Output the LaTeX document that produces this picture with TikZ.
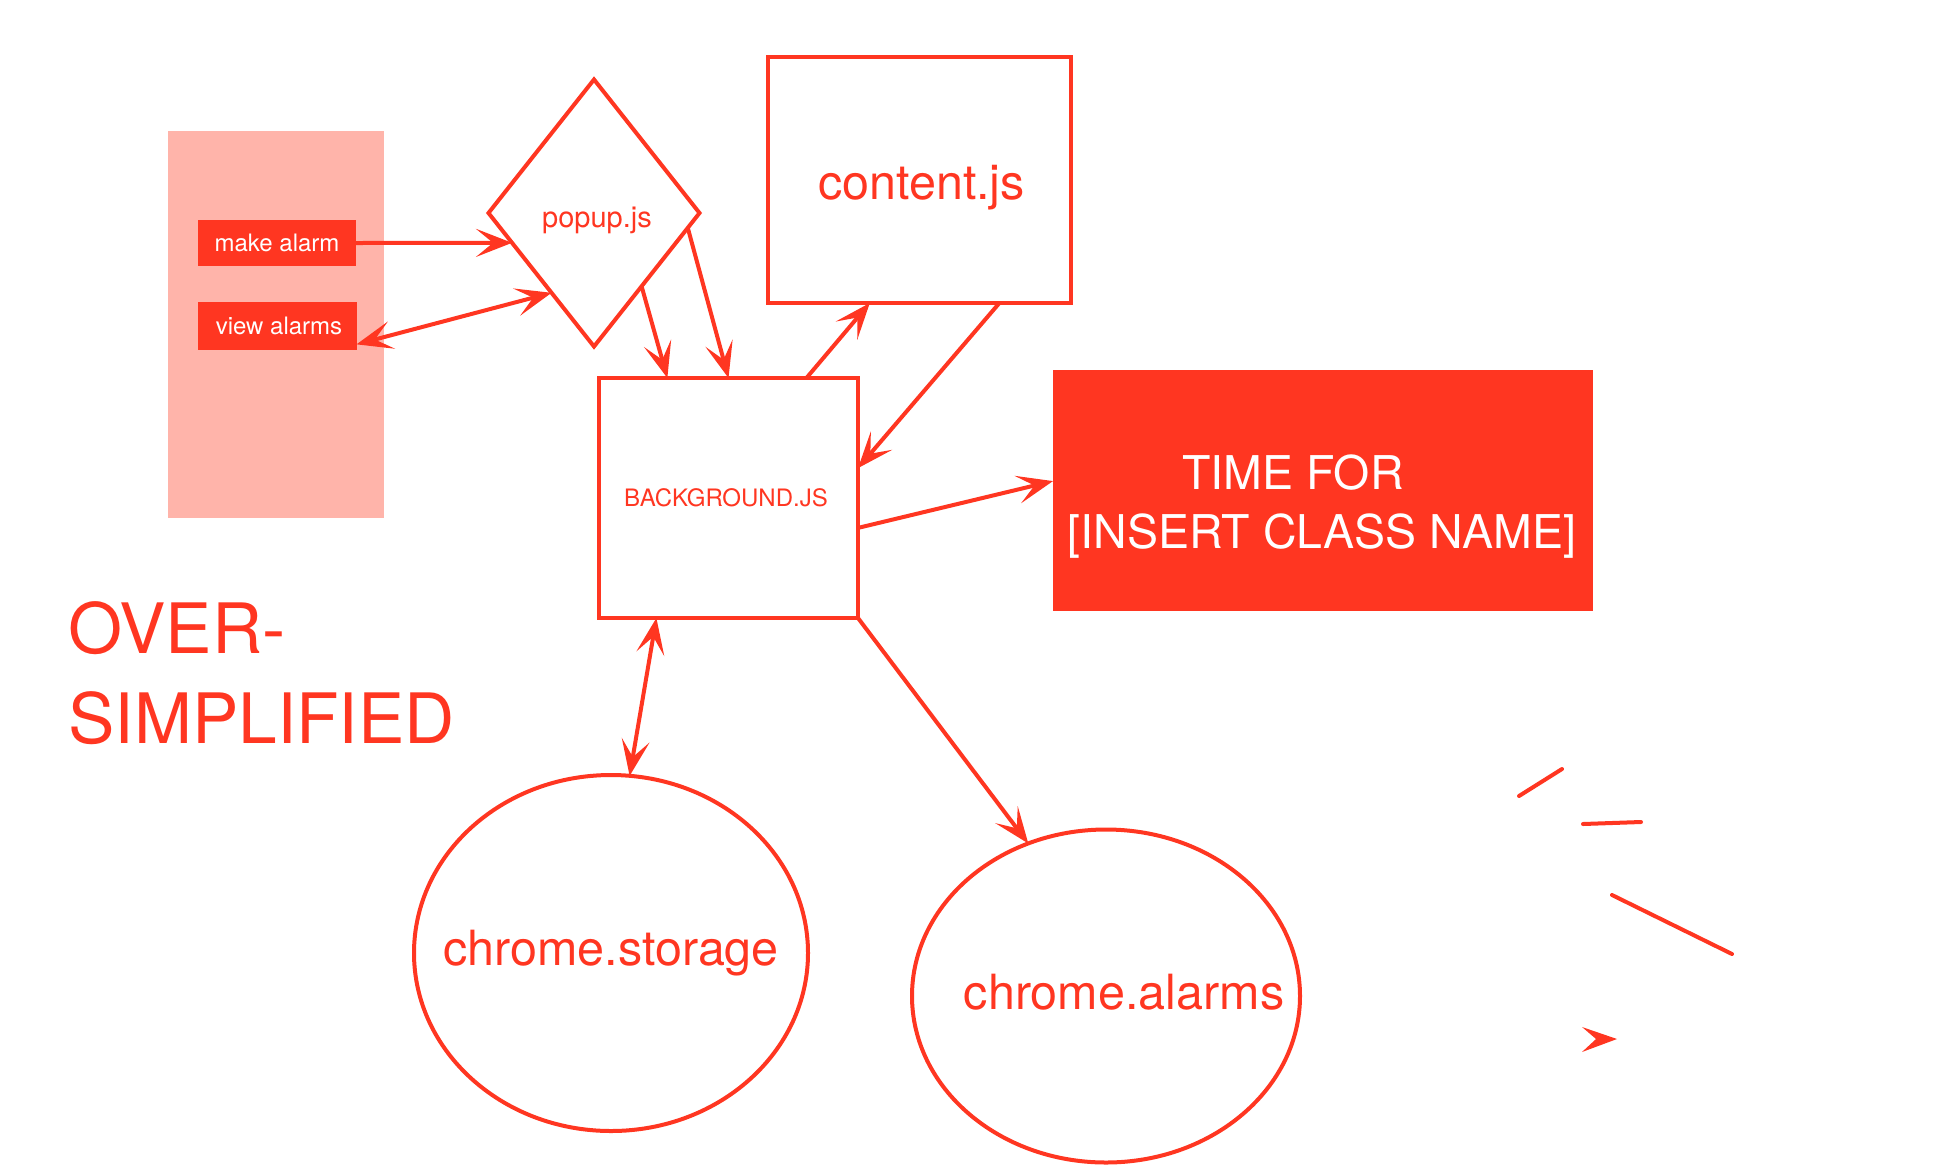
\documentclass[tikz,border=0pt]{standalone}
\usepackage{fontspec}
\setmainfont{TeX Gyre Heros}
\usetikzlibrary{positioning,shapes.geometric,arrows.meta}
\definecolor{ogred}{RGB}{255,54,33}
\definecolor{ogpink}{RGB}{255,180,170}

\begin{document}
\begin{tikzpicture}[
    x=1pt, y=-1pt, ogred, line width=4pt,
    every node/.style={inner sep=0pt, outer sep=0pt},
    tip/.tip={Stealth[length=36pt,width=28pt,inset=17pt]},
    link/.style={-tip},
    twoway/.style={tip-tip},
    jsbox/.style={draw, rectangle},
    redbtn/.style={fill, rectangle, text=white, font=\fontsize{24}{29}\selectfont},
    bubble/.style={draw, ellipse},
    big/.style={font=\fontsize{48.5}{58}\selectfont}
    ]
    \useasboundingbox (0,0) rectangle (1958,1168);

    \node[fill=ogpink, minimum width=216pt, minimum height=387pt](panel) at (276,324.5) {};
    \node[redbtn, minimum width=158pt, minimum height=46pt](make) at (277,243) {make alarm};
    \node[redbtn, minimum width=159pt, minimum height=48pt,
    below=36pt of make](view) {\hspace*{4pt}view alarms};

    \node[draw, diamond, minimum width=211pt, minimum height=267pt](popup) at (594,213) {};
    \node[font=\fontsize{29}{35}\selectfont](popuptext)
    at ([xshift=3pt,yshift=-7pt]popup.center) {popup.js};
    \node[jsbox, minimum width=303pt, minimum height=246pt](content) at (919.5,180) {};
    \node[big](contenttext) at ([xshift=2pt,yshift=-8pt]content.center) {content.js};
    \node[jsbox, minimum width=259pt, minimum height=240pt](bg) at (728.5,498) {};
    \node[font=\fontsize{24}{28}\selectfont](bgtext)
    at ([xshift=-2.5pt]bg.center) {BACKGROUND.JS};

    \node[fill, minimum width=540pt, minimum height=241pt](timebox) at (1323,490.5) {};
    \node[text=white, align=center, font=\fontsize{46.5}{59}\selectfont](timetext)
    at (1322,507) {TIME FOR\hspace*{58pt}\\{[}INSERT CLASS NAME{]}};

    \node[bubble, minimum width=394pt, minimum height=356pt](storage) at (611,953) {};
    \node[big](storagetext) at (611,953) {chrome.storage};
    \node[bubble, minimum width=388pt, minimum height=333pt](alarms) at (1106,996) {};
    \node[big](alarmstext) at (1124,992) {chrome.alarms};

    \node[anchor=north west, align=left, font=\fontsize{69.5}{90}\selectfont](title)
    at (68.5,602) {OVER-\\SIMPLIFIED};

    \draw[link] (make.east) -- (popup.200);
    \draw[twoway] (view.-13) -- (popup.242);
    \draw[link] (popup.-57) -- (bg.117);
    \draw[link] (popup.-9) -- (bg.north);
    \draw[link] (bg.57) -- (content.-112);
    \draw[link] (content.-57.5) -- (bg.13);
    \draw[link] (bg.-13) -- (timebox.178);
    \draw[twoway] (bg.-121) -- (storage.84);
    \draw[link] (bg.south east) -- (alarms.117);

    % loose strokes
    \draw[line cap=round] (1519,796) -- (1562,769);
    \draw[line cap=round] (1583,824) -- (1641,822);
    \draw[line cap=round] (1612,895) -- (1732,954);
    \fill (1617,1039) -- (1582,1027) -- (1596,1039) -- (1582,1052) -- cycle;
\end{tikzpicture}
\end{document}
